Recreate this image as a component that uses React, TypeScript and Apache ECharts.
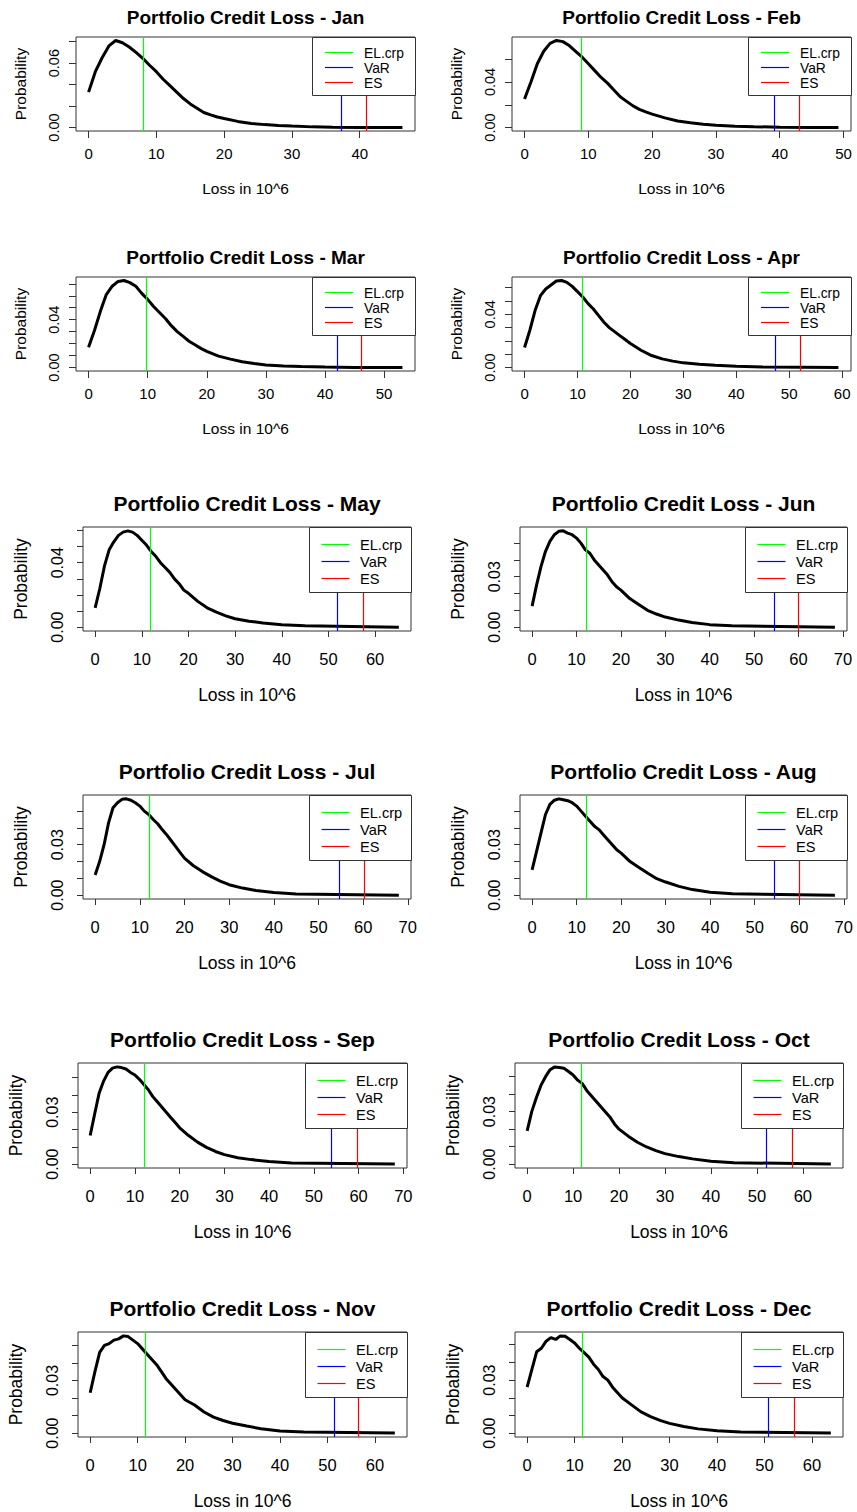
import React, { useEffect, useRef } from "react";
import * as echarts from "echarts";

const months = ["Jan", "Feb", "Mar", "Apr", "May", "Jun", "Jul", "Aug", "Sep", "Oct", "Nov", "Dec"];

// loss grid (in 10^6) shared by all months; last point of each month is at maxLoss with probability 0
const lossGrid = [0, 1, 2, 3, 4, 5, 6, 7, 8, 9, 10, 11, 12, 13, 14, 15, 16, 17, 18, 19, 20, 22, 24, 26, 28, 30, 33, 36, 40, 45];
const maxLoss = [46.3, 49.2, 53.1, 59.3, 65.1, 68.2, 68.0, 68.0, 68.1, 66.1, 64.2, 64.0];

const probJan = [0.033, 0.052, 0.065, 0.076, 0.0811, 0.079, 0.075, 0.070, 0.0645, 0.058, 0.052, 0.045, 0.039, 0.033, 0.027, 0.022, 0.018, 0.014, 0.0118, 0.0098, 0.0084, 0.0057, 0.0038, 0.0027, 0.0018, 0.0013, 0.0006, 0.0003, 0.0001, 0];
const probFeb = [0.025, 0.040, 0.056, 0.067, 0.074, 0.0765, 0.0755, 0.072, 0.067, 0.062, 0.056, 0.050, 0.044, 0.039, 0.033, 0.027, 0.023, 0.019, 0.016, 0.0138, 0.0118, 0.0085, 0.0058, 0.0042, 0.0029, 0.002, 0.0012, 0.0007, 0.0003, 0.0001];
const probMar = [0.017, 0.031, 0.047, 0.061, 0.068, 0.072, 0.0728, 0.071, 0.068, 0.062, 0.057, 0.051, 0.046, 0.041, 0.035, 0.030, 0.026, 0.022, 0.019, 0.016, 0.0135, 0.0095, 0.007, 0.0048, 0.0033, 0.0022, 0.0013, 0.0008, 0.0004, 0.0001];
const probApr = [0.015, 0.028, 0.043, 0.054, 0.059, 0.062, 0.065, 0.0654, 0.064, 0.061, 0.057, 0.053, 0.048, 0.044, 0.039, 0.034, 0.030, 0.027, 0.024, 0.021, 0.018, 0.013, 0.009, 0.0065, 0.0048, 0.0035, 0.0025, 0.0017, 0.0009, 0.0004];
const probMay = [0.012, 0.024, 0.038, 0.048, 0.053, 0.057, 0.059, 0.0598, 0.059, 0.057, 0.054, 0.051, 0.047, 0.044, 0.040, 0.037, 0.034, 0.030, 0.027, 0.023, 0.021, 0.016, 0.012, 0.0093, 0.007, 0.0052, 0.0037, 0.0026, 0.0015, 0.0008];
const probJun = [0.0125, 0.025, 0.036, 0.045, 0.051, 0.055, 0.057, 0.0573, 0.056, 0.055, 0.053, 0.050, 0.046, 0.044, 0.040, 0.037, 0.034, 0.031, 0.027, 0.024, 0.022, 0.017, 0.0135, 0.010, 0.0078, 0.006, 0.0042, 0.0028, 0.0015, 0.0008];
const probJul = [0.012, 0.020, 0.030, 0.043, 0.052, 0.055, 0.057, 0.0573, 0.0565, 0.055, 0.053, 0.050, 0.048, 0.045, 0.0425, 0.039, 0.036, 0.0325, 0.029, 0.0255, 0.022, 0.0175, 0.014, 0.011, 0.0083, 0.0062, 0.0042, 0.0028, 0.0016, 0.0007];
const probAug = [0.015, 0.026, 0.037, 0.048, 0.054, 0.0565, 0.0573, 0.0568, 0.0562, 0.055, 0.053, 0.050, 0.047, 0.044, 0.041, 0.039, 0.036, 0.033, 0.030, 0.027, 0.025, 0.020, 0.0165, 0.013, 0.0098, 0.0078, 0.0052, 0.0033, 0.0017, 0.0008];
const probSep = [0.0165, 0.029, 0.041, 0.048, 0.053, 0.0555, 0.0562, 0.0558, 0.055, 0.053, 0.0515, 0.049, 0.046, 0.043, 0.039, 0.036, 0.033, 0.030, 0.027, 0.024, 0.021, 0.0165, 0.0127, 0.0097, 0.0073, 0.0055, 0.0037, 0.0026, 0.0015, 0.0007];
const probOct = [0.019, 0.030, 0.038, 0.045, 0.050, 0.054, 0.0556, 0.0553, 0.0548, 0.053, 0.051, 0.048, 0.046, 0.042, 0.039, 0.036, 0.033, 0.030, 0.027, 0.023, 0.020, 0.016, 0.0125, 0.0098, 0.0077, 0.006, 0.0043, 0.003, 0.0017, 0.0008];
const probNov = [0.023, 0.035, 0.046, 0.050, 0.051, 0.053, 0.0537, 0.0554, 0.055, 0.053, 0.051, 0.048, 0.045, 0.042, 0.039, 0.035, 0.031, 0.028, 0.025, 0.022, 0.019, 0.016, 0.012, 0.0091, 0.0072, 0.0056, 0.004, 0.0025, 0.0012, 0.0006];
const probDec = [0.026, 0.036, 0.046, 0.048, 0.052, 0.054, 0.053, 0.055, 0.0548, 0.053, 0.051, 0.048, 0.0455, 0.043, 0.039, 0.036, 0.032, 0.030, 0.026, 0.023, 0.020, 0.016, 0.012, 0.0093, 0.0072, 0.0055, 0.0037, 0.0024, 0.0014, 0.0006];
const probs = [probJan, probFeb, probMar, probApr, probMay, probJun, probJul, probAug, probSep, probOct, probNov, probDec];

const elCrp = [8.0, 8.85, 9.83, 10.9, 11.86, 12.3, 12.1, 12.1, 12.06, 11.86, 11.6, 11.7];
const varValues = [37.2, 39.2, 42.0, 47.3, 52.0, 54.5, 54.7, 54.3, 54.0, 52.1, 51.4, 50.9];
const esValues = [40.9, 43.1, 46.2, 52.1, 57.4, 60.0, 60.2, 60.1, 59.6, 57.6, 56.4, 56.2];

const xTickValues = [
  [0, 10, 20, 30, 40],
  [0, 10, 20, 30, 40, 50],
  [0, 10, 20, 30, 40, 50],
  [0, 10, 20, 30, 40, 50, 60],
  [0, 10, 20, 30, 40, 50, 60],
  [0, 10, 20, 30, 40, 50, 60, 70],
  [0, 10, 20, 30, 40, 50, 60, 70],
  [0, 10, 20, 30, 40, 50, 60, 70],
  [0, 10, 20, 30, 40, 50, 60, 70],
  [0, 10, 20, 30, 40, 50, 60],
  [0, 10, 20, 30, 40, 50, 60],
  [0, 10, 20, 30, 40, 50, 60],
];
const yTicks5 = [0, 0.01, 0.02, 0.03, 0.04, 0.05];
const yTickValues = [
  [0, 0.02, 0.04, 0.06, 0.08],
  [0, 0.02, 0.04, 0.06],
  [0, 0.01, 0.02, 0.03, 0.04, 0.05, 0.06, 0.07],
  [0, 0.01, 0.02, 0.03, 0.04, 0.05, 0.06],
  [0, 0.01, 0.02, 0.03, 0.04, 0.05, 0.06],
  yTicks5, yTicks5, yTicks5, yTicks5, yTicks5, yTicks5, yTicks5,
];
const yLabelValues = [
  [0, 0.06], [0, 0.04], [0, 0.04], [0, 0.04], [0, 0.04],
  [0, 0.03], [0, 0.03], [0, 0.03], [0, 0.03], [0, 0.03], [0, 0.03], [0, 0.03],
];
const legendNames = ["EL.crp", "VaR", "ES"];
const legendColors = ["#00ff00", "#0000ff", "#ff0000"];

// layout: plot boxes [left, top, width, height]
const boxes = [
  [76, 37, 339, 94], [512, 37, 339, 94],
  [76, 277, 339, 94], [512, 277, 339, 94],
  [83, 527, 328, 104], [520, 527, 327, 104],
  [83, 795, 328, 104], [520, 795, 327, 104],
  [78, 1063, 329, 105], [515, 1063, 328, 105],
  [78, 1332, 329, 105], [515, 1332, 328, 105],
];

const styleSmall = {
  title: 19, tick: 15, ytick: 14.5, name: 15.5, legend: 13.8, titleGap: 20,
  xLabelMargin: 15, xNameGap: 49, yLabelMargin: 15, yNameGap: 48, tickLen: 7,
  legW: 103, legH: 58, legLine0: 13, legLine1: 41, legText: 52, legRows: [15, 30, 45],
};
const styleLarge = {
  title: 21, tick: 16.5, ytick: 16, name: 17.5, legend: 14.6, titleGap: 24,
  xLabelMargin: 19, xNameGap: 55, yLabelMargin: 18, yNameGap: 53, tickLen: 6,
  legW: 102, legH: 65, legLine0: 12.5, legLine1: 40.5, legText: 51, legRows: [17, 34, 51],
};

const FONT = "'Liberation Sans', Arial, Helvetica, sans-serif";
const AXIS_COLOR = "#333";

function buildOption() {
  const grid: any[] = [];
  const xAxis: any[] = [];
  const yAxis: any[] = [];
  const series: any[] = [];
  const graphic: any[] = [];

  months.forEach((m, i) => {
    const [L, T, W, H] = boxes[i];
    const st = i < 4 ? styleSmall : styleLarge;
    const data = lossGrid.map((x, k) => [x, probs[i][k]]);
    data.push([maxLoss[i], 0]);
    const peak = Math.max(...probs[i]);
    const xmax = maxLoss[i];

    grid.push({
      left: L, top: T, width: W, height: H,
      show: true, borderColor: AXIS_COLOR, borderWidth: 1, backgroundColor: "transparent",
      containLabel: false,
    });
    xAxis.push({
      type: "value", gridIndex: i, position: "bottom",
      min: -0.04 * xmax, max: 1.04 * xmax,
      axisLine: { show: false, onZero: false },
      splitLine: { show: false },
      axisTick: { show: true, inside: false, customValues: xTickValues[i], length: st.tickLen, lineStyle: { color: AXIS_COLOR } },
      axisLabel: {
        customValues: xTickValues[i], margin: st.xLabelMargin, fontSize: st.tick,
        color: "#000", fontFamily: FONT,
      },
      name: "Loss in 10^6", nameLocation: "middle", nameGap: st.xNameGap,
      nameTextStyle: { fontSize: st.name, color: "#000", fontFamily: FONT },
    });
    yAxis.push({
      type: "value", gridIndex: i, position: "left",
      min: -0.04 * peak, max: 1.04 * peak,
      axisLine: { show: false, onZero: false },
      splitLine: { show: false },
      axisTick: { show: true, inside: false, customValues: yTickValues[i], length: st.tickLen, lineStyle: { color: AXIS_COLOR } },
      axisLabel: {
        customValues: yLabelValues[i], rotate: 90, margin: st.yLabelMargin, fontSize: st.ytick,
        color: "#000", fontFamily: FONT, formatter: (v: number) => v.toFixed(2),
      },
      name: "Probability", nameLocation: "middle", nameRotate: 90, nameGap: st.yNameGap,
      nameTextStyle: { fontSize: st.name, color: "#000", fontFamily: FONT },
    });
    series.push({
      type: "line", name: m, xAxisIndex: i, yAxisIndex: i,
      data, showSymbol: false, symbol: "none", smooth: false,
      lineStyle: { color: "#000", width: 3 },
      silent: true, z: 3,
      markLine: {
        silent: true, symbol: ["none", "none"], label: { show: false },
        emphasis: { disabled: true },
        data: [
          { xAxis: elCrp[i], lineStyle: { color: legendColors[0], width: 1.2, type: "solid" } },
          { xAxis: varValues[i], lineStyle: { color: legendColors[1], width: 1.2, type: "solid" } },
          { xAxis: esValues[i], lineStyle: { color: legendColors[2], width: 1.2, type: "solid" } },
        ],
      },
    });

    // title
    graphic.push({
      type: "text", z: 100,
      style: {
        text: "Portfolio Credit Loss - " + m,
        x: L + W / 2, y: T - st.titleGap,
        align: "center", verticalAlign: "middle",
        fontSize: st.title, fontWeight: "bold", fontFamily: FONT, fill: "#000",
      },
    });

    // legend box
    const lx = L + W - st.legW;
    graphic.push({
      type: "rect", z: 100,
      shape: { x: lx + 0.5, y: T + 0.5, width: st.legW, height: st.legH },
      style: { fill: "#fff", stroke: AXIS_COLOR, lineWidth: 1 },
    });
    legendNames.forEach((nm, j) => {
      const ly = T + st.legRows[j];
      graphic.push({
        type: "line", z: 101,
        shape: { x1: lx + st.legLine0, y1: ly + 0.5, x2: lx + st.legLine1, y2: ly + 0.5 },
        style: { stroke: legendColors[j], lineWidth: 1.2 },
      });
      graphic.push({
        type: "text", z: 101,
        style: {
          text: nm, x: lx + st.legText, y: ly + 1,
          align: "left", verticalAlign: "middle",
          fontSize: st.legend, fontFamily: FONT, fill: "#000",
        },
      });
    });
  });

  return {
    animation: false,
    backgroundColor: "#fff",
    grid, xAxis, yAxis, series, graphic,
  };
}

export default function App() {
  const ref = useRef<HTMLDivElement>(null);
  useEffect(() => {
    if (!ref.current) return;
    const chart = echarts.init(ref.current, undefined, { renderer: "svg" });
    chart.setOption(buildOption() as any);
    return () => chart.dispose();
  }, []);
  return (
    <div
      ref={ref}
      style={{ position: "absolute", left: 0, top: 0, width: 857, height: 1512, background: "#fff" }}
    />
  );
}
